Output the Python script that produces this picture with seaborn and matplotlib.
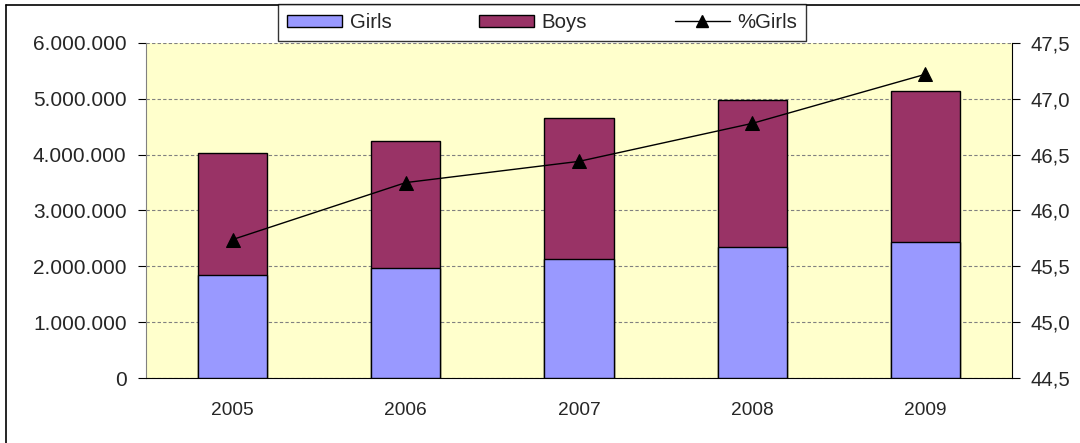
import numpy as np
import matplotlib
matplotlib.use("Agg")
import matplotlib.pyplot as plt
import seaborn as sns
import pandas as pd
from matplotlib.ticker import FuncFormatter, FixedLocator
from matplotlib.patches import Patch
from matplotlib.lines import Line2D

# data
years = ["2005", "2006", "2007", "2008", "2009"]
girls = [1845000, 1975000, 2135000, 2350000, 2440000]
boys = [2185000, 2270000, 2525000, 2630000, 2700000]
pct_girls = [45.74, 46.25, 46.44, 46.78, 47.22]

GIRL_COL = "#9999ff"
BOY_COL = "#993366"
BG_COL = "#ffffcc"

sns.set_style("white")
plt.rcParams["font.family"] = ["Liberation Sans", "DejaVu Sans"]

df = pd.DataFrame({"year": years, "girls": girls, "boys": boys, "pct": pct_girls})
df["total"] = df["girls"] + df["boys"]

W, H = 1080, 443
fig = plt.figure(figsize=(W / 100, H / 100), dpi=100)
ax = fig.add_axes([146 / W, 65 / H, 866 / W, 335 / H])
ax.set_facecolor(BG_COL)

# stacked bars: total (boys colour) behind, girls in front
sns.barplot(data=df, x="year", y="total", color=BOY_COL, saturation=1,
            width=0.4, edgecolor="black", linewidth=1, ax=ax, zorder=3)
sns.barplot(data=df, x="year", y="girls", color=GIRL_COL, saturation=1,
            width=0.4, edgecolor="black", linewidth=1, ax=ax, zorder=4)

ax.set_ylim(0, 6000000)
ax.set_xlim(-0.5, 4.5)
ax.yaxis.set_major_locator(FixedLocator(np.arange(0, 6000001, 1000000)))
ax.yaxis.set_major_formatter(FuncFormatter(lambda v, p: f"{int(v):,}".replace(",", ".")))
ax.yaxis.grid(True, linestyle=(0, (3, 2)), color="#808080", linewidth=0.8, zorder=0)
ax.set_axisbelow(True)
ax.set_xlabel("")
ax.set_ylabel("")

# tick marks between categories, labels centred
ax.set_xticks(np.arange(5))
ax.set_xticklabels(years)
ax.tick_params(axis="x", length=0, labelsize=13.8, pad=17)
ax.set_xticks(np.arange(-0.5, 5, 1), minor=True)
ax.tick_params(axis="x", which="minor", length=5, direction="out", color="black")
ax.tick_params(axis="y", length=6, direction="out", labelsize=15, color="black",
               left=True, pad=8)

for s in ["top", "right"]:
    ax.spines[s].set_visible(False)
ax.spines["left"].set_color("#808080")
ax.spines["bottom"].set_color("black")

ax2 = ax.twinx()
sns.lineplot(x=np.arange(5), y=pct_girls, color="black", linewidth=1, marker="^",
             markersize=10, markeredgecolor="black", ax=ax2, zorder=5)
ax2.set_ylim(44.5, 47.5)
ax2.yaxis.set_major_locator(FixedLocator(np.arange(44.5, 47.51, 0.5)))
ax2.yaxis.set_major_formatter(FuncFormatter(lambda v, p: f"{v:.1f}".replace(".", ",")))
ax2.tick_params(axis="y", length=6, direction="out", labelsize=14.6, color="black",
                right=True, pad=7)
for s in ["top", "left", "bottom"]:
    ax2.spines[s].set_visible(False)
ax2.spines["right"].set_color("black")

handles = [Patch(facecolor=GIRL_COL, edgecolor="black", label="Girls"),
           Patch(facecolor=BOY_COL, edgecolor="black", label="Boys"),
           Line2D([], [], color="black", linewidth=1, marker="^", markersize=9, label="%Girls")]
leg = fig.legend(handles=handles, ncol=3, loc="center", bbox_to_anchor=(542 / W, 1 - 22.5 / H),
                 fontsize=14.7, frameon=True, fancybox=False, edgecolor="black",
                 columnspacing=4.3, handlelength=2.7, handleheight=0.5,
                 borderpad=0.45, handletextpad=0.35)
leg.get_frame().set_linewidth(1)

# outer chart border (only top and left edges visible in the crop)
fig.add_artist(Line2D([6 / W, 1], [1 - 5 / H, 1 - 5 / H], transform=fig.transFigure,
                      color="black", linewidth=1.2))
fig.add_artist(Line2D([6 / W, 6 / W], [0, 1 - 5 / H], transform=fig.transFigure,
                      color="black", linewidth=1.2))

fig.savefig("out.png", dpi=100)
